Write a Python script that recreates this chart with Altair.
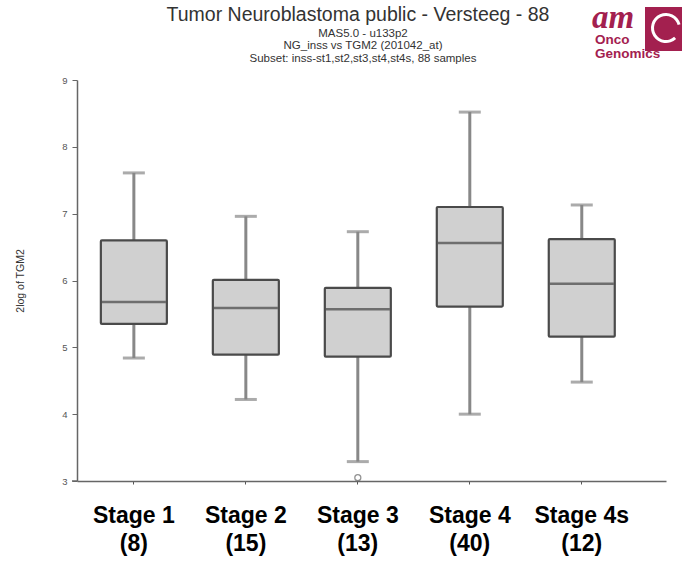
import altair as alt
import pandas as pd

# Box-plot summary per INSS stage (2log TGM2 expression)
stages = ["Stage 1", "Stage 2", "Stage 3", "Stage 4", "Stage 4s"]
counts = [8, 15, 13, 40, 12]
whisker_low = [4.84, 4.22, 3.29, 4.00, 4.48]
q1 = [5.35, 4.89, 4.86, 5.61, 5.16]
median = [5.68, 5.59, 5.57, 6.56, 5.95]
q3 = [6.60, 6.01, 5.89, 7.10, 6.62]
whisker_high = [7.61, 6.96, 6.73, 8.52, 7.13]

outlier_stage = ["Stage 3"]
outlier_value = [3.05]

title_text = "Tumor Neuroblastoma public - Versteeg - 88"
subtitle_lines = [
    "MAS5.0 - u133p2",
    "NG_inss vs TGM2 (201042_at)",
    "Subset: inss-st1,st2,st3,st4,st4s, 88 samples",
]

labels = [f"{s}\n({n})" for s, n in zip(stages, counts)]
label_of = dict(zip(stages, labels))

box_df = pd.DataFrame({
    "stage": labels,
    "low": whisker_low,
    "q1": q1,
    "median": median,
    "q3": q3,
    "high": whisker_high,
})
out_df = pd.DataFrame({
    "stage": [label_of[s] for s in outlier_stage],
    "value": outlier_value,
})
one_row = pd.DataFrame({"k": [0]})

W, H = 589, 401
BOX_W = 66
CAP_W = 22

x_enc = alt.X(
    "stage:N",
    sort=labels,
    scale=alt.Scale(paddingInner=0, paddingOuter=0.13, align=0.03),
    axis=alt.Axis(
        title=None,
        labelAngle=0,
        labelExpr="split(datum.label, '\\n')",
        labelFont="Liberation Sans",
        labelFontWeight="bold",
        labelFontSize=23,
        labelLineHeight=28,
        labelColor="#000000",
        labelPadding=20,
        tickSize=3,
        tickColor="#555555",
        domainColor="#666666",
        domainWidth=1.5,
        grid=False,
    ),
)
y_scale = alt.Scale(domain=[3, 9], nice=False, zero=False)
y_axis = alt.Axis(
    title="2log of TGM2",
    values=[3, 4, 5, 6, 7, 8, 9],
    format="d",
    labelFont="Liberation Sans",
    labelFontSize=9.5,
    labelColor="#555555",
    labelPadding=5,
    tickSize=5,
    tickColor="#666666",
    domainColor="#666666",
    domainWidth=1.5,
    grid=False,
    titleFont="Liberation Sans",
    titleFontSize=10.5,
    titleFontWeight="normal",
    titleColor="#333333",
    titlePadding=36,
)

base = alt.Chart(box_df)

whiskers = base.mark_rule(color="#888888", strokeWidth=3).encode(
    x=x_enc,
    y=alt.Y("low:Q", scale=y_scale, axis=y_axis),
    y2="high:Q",
)
cap_low = base.mark_tick(color="#888888", thickness=3, size=CAP_W).encode(
    x=x_enc, y=alt.Y("low:Q", scale=y_scale)
)
cap_high = base.mark_tick(color="#888888", thickness=3, size=CAP_W).encode(
    x=x_enc, y=alt.Y("high:Q", scale=y_scale)
)
boxes = base.mark_bar(
    size=BOX_W, fill="#d0d0d0", stroke="#4a4a4a", strokeWidth=2.2,
    cornerRadius=1,
).encode(
    x=x_enc, y=alt.Y("q1:Q", scale=y_scale), y2="q3:Q"
)
medians = base.mark_tick(color="#444444", thickness=2.5, size=BOX_W - 2).encode(
    x=x_enc, y=alt.Y("median:Q", scale=y_scale)
)
outliers = alt.Chart(out_df).mark_point(
    shape="circle", size=36, filled=False, color="#666666", strokeWidth=1.3
).encode(
    x=x_enc, y=alt.Y("value:Q", scale=y_scale)
)

# Short stub continuing the x-axis line past the y-axis
axis_stub = alt.Chart(one_row).mark_rule(color="#666666", strokeWidth=1.5).encode(
    x=alt.value(-5), x2=alt.value(0), y=alt.value(H)
)

# Title block above the plot
def text_line(txt, x, y, size, **kw):
    return alt.Chart(one_row).mark_text(
        text=txt, font="Liberation Sans", fontSize=size, color="#333333",
        align="center", baseline="alphabetic", **kw,
    ).encode(x=alt.value(x), y=alt.value(y))

title_mark = text_line(title_text, 281, -59, 19.5)
subtitle_marks = [
    text_line(line, 286, yy, 11.5)
    for line, yy in zip(subtitle_lines, [-43, -31, -18])
]

# Logo in the top-right corner
MAROON = "#a3204f"
logo_box = alt.Chart(one_row).mark_rect(color=MAROON).encode(
    x=alt.value(568), x2=alt.value(605), y=alt.value(-73), y2=alt.value(-29)
)
logo_ring = alt.Chart(one_row).mark_arc(
    color="white", radius=15, radius2=12, theta=2.4, theta2=7.6
).encode(x=alt.value(589), y=alt.value(-52))
logo_am = alt.Chart(one_row).mark_text(
    text="am", font="Liberation Serif", fontStyle="italic", fontWeight="bold",
    fontSize=33, color=MAROON, align="left", baseline="alphabetic",
).encode(x=alt.value(515), y=alt.value(-52))
logo_onco = alt.Chart(one_row).mark_text(
    text="Onco", font="Liberation Sans", fontWeight="bold",
    fontSize=13.5, color=MAROON, align="left", baseline="alphabetic",
).encode(x=alt.value(518), y=alt.value(-36))
logo_gen = alt.Chart(one_row).mark_text(
    text="Genomics", font="Liberation Sans", fontWeight="bold",
    fontSize=13.5, color=MAROON, align="left", baseline="alphabetic",
).encode(x=alt.value(518), y=alt.value(-22))

chart = alt.layer(
    whiskers, cap_low, cap_high, boxes, medians, outliers, axis_stub,
    title_mark, *subtitle_marks,
    logo_box, logo_ring, logo_am, logo_onco, logo_gen,
).properties(
    width=W,
    height=H,
    background="white",
    autosize=alt.AutoSizeParams(type="none"),
    padding={"left": 77, "top": 80, "right": 16, "bottom": 80},
).configure_view(stroke=None)

chart.save("out.html", embed_options={"renderer": "svg", "actions": False})
